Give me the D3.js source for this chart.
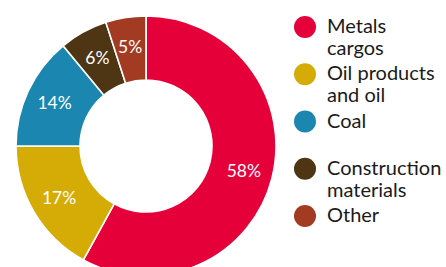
<!DOCTYPE html>
<html>
<head>
<meta charset="utf-8">
<script src="https://cdn.jsdelivr.net/npm/d3@7"></script>
<style>
  html, body { margin: 0; padding: 0; background: #fff; }
  svg { display: block; }
  text { font-family: "Lato", "Noto Sans", sans-serif; }
</style>
</head>
<body>
<svg id="chart" width="446" height="267"></svg>
<script>
const categories = ["Metals cargos", "Oil products and oil", "Coal", "Construction materials", "Other"];
const legendLines = [["Metals", "cargos"], ["Oil products", "and oil"], ["Coal"], ["Construction", "materials"], ["Other"]];
const values = [58, 17, 14, 6, 5];
const colors = ["#E5003A", "#D5AB06", "#1B86B0", "#4E3615", "#A33B23"];

const svg = d3.select("#chart");
const cx = 146, cy = 146, outerR = 130, innerR = 66;

const pie = d3.pie().sort(null).value(d => d)(values);
const arc = d3.arc().innerRadius(innerR).outerRadius(outerR);
const labelArc = d3.arc().innerRadius(101).outerRadius(101);
const color = d3.scaleOrdinal().domain(categories).range(colors);

const g = svg.append("g").attr("transform", `translate(${cx},${cy})`);
g.selectAll("path.slice").data(pie).join("path")
  .attr("class", "slice")
  .attr("d", arc)
  .attr("fill", (d, i) => color(categories[i]))
  .attr("stroke", "#fff")
  .attr("stroke-width", 1.6);

g.selectAll("text.lbl").data(pie).join("text")
  .attr("class", "lbl")
  .attr("transform", d => `translate(${labelArc.centroid(d)})`)
  .attr("text-anchor", "middle")
  .attr("dy", "0.36em")
  .attr("fill", "#fff")
  .attr("font-size", 17.5)
  .text(d => d.data + "%");

// Legend
const ly = d3.scalePoint().domain(categories).range([33, 222]);
const leg = svg.append("g");
categories.forEach((c, i) => {
  const y = ly(c);
  leg.append("circle").attr("cx", 305).attr("cy", y - 6).attr("r", 11).attr("fill", color(c));
  const t = leg.append("text").attr("x", 327).attr("y", y).attr("font-size", 20).attr("fill", "#1a1a1a");
  legendLines[i].forEach((line, j) => {
    t.append("tspan").attr("x", 327).attr("dy", j === 0 ? 0 : 22).text(line);
  });
});
</script>
</body>
</html>
